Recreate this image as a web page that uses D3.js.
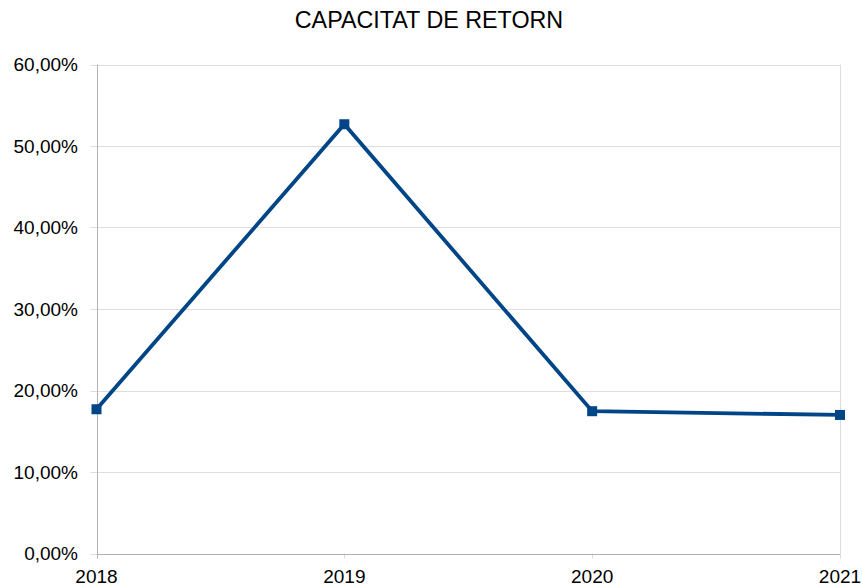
<!DOCTYPE html>
<html>
<head>
<meta charset="utf-8">
<script src="https://cdn.jsdelivr.net/npm/d3@7"></script>
<style>
body { margin: 0; background: #fff; }
text { font-family: "Liberation Sans", Arial, sans-serif; fill: #000; }
</style>
</head>
<body>
<div id="chart"></div>
<script>
var years = ["2018", "2019", "2020", "2021"];
var values = [0.177, 0.5267, 0.1746, 0.170];
var yTicks = [0, 0.1, 0.2, 0.3, 0.4, 0.5, 0.6];

var W = 863, H = 588;
var m = {l: 96.5, r: 23, t: 64.5, b: 34.5};

var svg = d3.select("#chart").append("svg")
  .attr("width", W)
  .attr("height", H);

var x = d3.scalePoint().domain(years).range([m.l, W - m.r]);
var y = d3.scaleLinear().domain([0, 0.6]).range([H - m.b, m.t]);

var fmt = function(d) { return d3.format(".2f")(d * 100).replace(".", ",") + "%"; };

// gridlines
svg.append("g").selectAll("line")
  .data(yTicks)
  .join("line")
  .attr("x1", m.l - 6).attr("x2", W - m.r)
  .attr("y1", function(d) { return Math.round(y(d)) + 0.5; })
  .attr("y2", function(d) { return Math.round(y(d)) + 0.5; })
  .attr("stroke", "#dddddd");

// vertical right border / x ticks
svg.append("g").selectAll("line")
  .data(years)
  .join("line")
  .attr("x1", function(d) { return Math.round(x(d)) + 0.5; })
  .attr("x2", function(d) { return Math.round(x(d)) + 0.5; })
  .attr("y1", function(d, i) { return i == years.length - 1 ? m.t : H - m.b; })
  .attr("y2", H - m.b + 5)
  .attr("stroke", "#dddddd");

// axis lines
svg.append("line")
  .attr("x1", Math.round(m.l) + 0.5).attr("x2", Math.round(m.l) + 0.5)
  .attr("y1", m.t).attr("y2", H - m.b + 5)
  .attr("stroke", "#b3b3b3");
svg.append("line")
  .attr("x1", m.l).attr("x2", W - m.r)
  .attr("y1", Math.round(H - m.b) + 0.5).attr("y2", Math.round(H - m.b) + 0.5)
  .attr("stroke", "#b3b3b3");

// y labels
svg.append("g").selectAll("text")
  .data(yTicks)
  .join("text")
  .attr("x", 78)
  .attr("y", function(d) { return y(d); })
  .attr("dy", "0.35em")
  .attr("text-anchor", "end")
  .style("font-size", "19px")
  .text(fmt);

// x labels
svg.append("g").selectAll("text")
  .data(years)
  .join("text")
  .attr("x", function(d) { return x(d); })
  .attr("y", 583)
  .attr("text-anchor", "middle")
  .style("font-size", "19px")
  .text(function(d) { return d; });

// title
svg.append("text")
  .attr("x", 429)
  .attr("y", 28)
  .attr("text-anchor", "middle")
  .style("font-size", "23.3px")
  .text("CAPACITAT DE RETORN");

var line = d3.line()
  .x(function(d, i) { return x(years[i]); })
  .y(function(d) { return y(d); });

svg.append("path")
  .datum(values)
  .attr("d", line)
  .attr("fill", "none")
  .attr("stroke", "#004586")
  .attr("stroke-width", 3.8)
  .attr("stroke-linejoin", "miter");

svg.append("g").selectAll("rect")
  .data(values)
  .join("rect")
  .attr("x", function(d, i) { return x(years[i]) - 5; })
  .attr("y", function(d) { return y(d) - 5; })
  .attr("width", 10)
  .attr("height", 10)
  .attr("fill", "#004586");
</script>
</body>
</html>
